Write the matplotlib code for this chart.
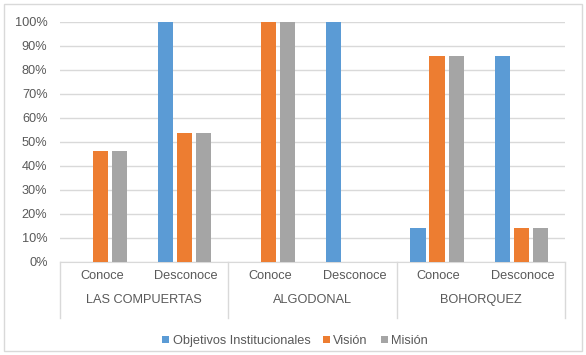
import matplotlib

matplotlib.use("Agg")
import matplotlib.pyplot as plt
import numpy as np
from matplotlib.patches import Rectangle

groups = ["LAS COMPUERTAS", "ALGODONAL", "BOHORQUEZ"]
subcats = ["Conoce", "Desconoce"]
series = ["Objetivos Institucionales", "Visión", "Misión"]
objetivos = [0, 100, 0, 100, 14.29, 85.71]
vision = [46.15, 53.85, 100, 0, 85.71, 14.29]
mision = [46.15, 53.85, 100, 0, 85.71, 14.29]
colors = ["#5B9BD5", "#ED7D31", "#A5A5A5"]

plt.rcParams["font.family"] = ["Liberation Sans", "DejaVu Sans"]
txt = "#595959"
fs = 9.2

fig = plt.figure(figsize=(5.86, 3.55), dpi=100)
ax = fig.add_axes([60 / 586, 1 - 262 / 355, 505 / 586, 240 / 355])

n = len(objetivos)
x = np.arange(n)
width = 0.18
pitch = 0.226
handles = []
for i, (vals, col, name) in enumerate(zip([objetivos, vision, mision], colors, series)):
    h = ax.bar(x + (i - 1) * pitch - 0.02, vals, width, color=col, label=name, zorder=3)
    handles.append(h)

ax.set_xlim(-0.5, n - 0.5)
ax.set_ylim(0, 100)
ax.set_yticks(np.arange(0, 101, 10))
ax.set_yticklabels([f"{v}%" for v in range(0, 101, 10)], fontsize=fs, color=txt)
ax.yaxis.grid(True, color="#D9D9D9", linewidth=1, zorder=0)
ax.tick_params(axis="y", length=0, pad=9)
ax.set_xticks([])
for s in ["top", "right", "left"]:
    ax.spines[s].set_visible(False)
ax.spines["bottom"].set_color("#D9D9D9")

# category labels
trans = ax.get_xaxis_transform()
for i in range(n):
    ax.text(i, -14 / 240, subcats[i % 2], transform=trans, ha="center", va="center",
            fontsize=fs, color=txt)
for g, name in enumerate(groups):
    ax.text(2 * g + 0.5, -38 / 240, name, transform=trans, ha="center", va="center",
            fontsize=fs, color=txt)
for b in [-0.5, 1.5, 3.5, 5.5]:
    ax.plot([b, b], [0, -56 / 240], transform=trans, color="#D9D9D9", lw=1, clip_on=False)

fig.legend(handles=handles, labels=series, loc="center", bbox_to_anchor=(295 / 586, 1 - 341 / 355),
           ncol=3, frameon=False, fontsize=fs, handlelength=0.55, handleheight=0.55,
           handletextpad=0.25, columnspacing=1.0, labelcolor=txt)

fig.patches.append(Rectangle((4 / 586, 4 / 355), 578 / 586, 347 / 355, transform=fig.transFigure,
                             fill=False, edgecolor="#D9D9D9", lw=1))

fig.savefig("out.png", dpi=100)
